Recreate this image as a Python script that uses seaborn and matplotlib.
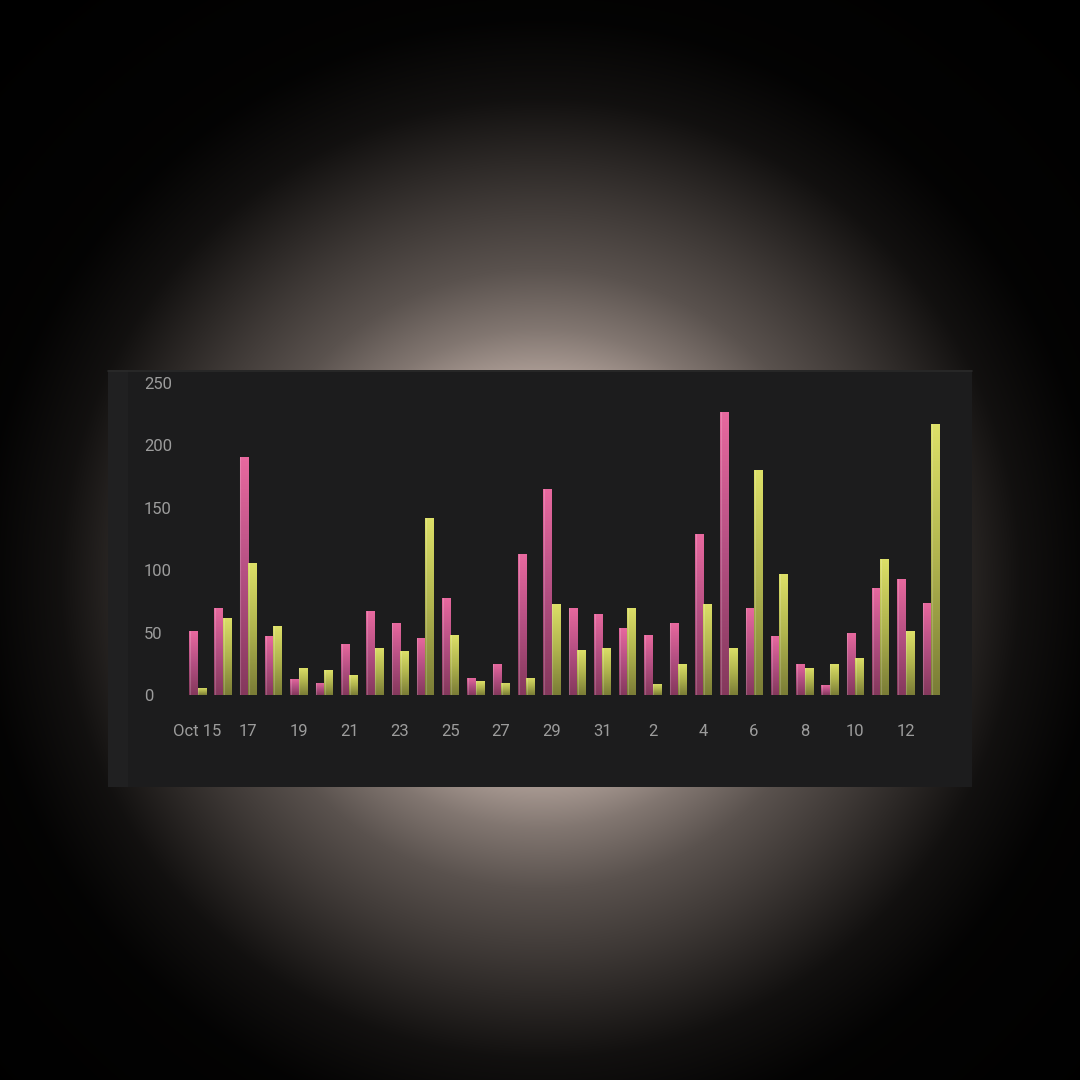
import numpy as np
import pandas as pd
import matplotlib
matplotlib.use("Agg")
import matplotlib.pyplot as plt
import seaborn as sns
from matplotlib.patches import Rectangle
from matplotlib.colors import LinearSegmentedColormap

# daily values, Oct 15 .. Nov 13
days = ["Oct %d" % d for d in range(15, 32)] + ["Nov %d" % d for d in range(1, 14)]
series_a = [51, 70, 191, 47, 13, 10, 41, 67, 58, 46, 78, 14, 25, 113, 165,
            70, 65, 54, 48, 58, 129, 227, 70, 47, 25, 8, 50, 86, 93, 74]
series_b = [6, 62, 106, 55, 22, 20, 16, 38, 35, 142, 48, 11, 10, 14, 73,
            36, 38, 70, 9, 25, 73, 38, 180, 97, 22, 25, 30, 109, 51, 217]
tick_labels = ["Oct 15", "17", "19", "21", "23", "25", "27", "29", "31",
               "2", "4", "6", "8", "10", "12"]
y_ticks = [0, 50, 100, 150, 200, 250]

df = pd.DataFrame({
    "day": days * 2,
    "value": series_a + series_b,
    "series": ["A"] * len(days) + ["B"] * len(days),
})

sns.set_theme(style="white")
plt.rcParams["font.family"] = ["Roboto", "DejaVu Sans"]

W = 1080
fig = plt.figure(figsize=(10.8, 10.8), dpi=100)
fig.patch.set_facecolor("black")

# background glow and the dark card
bg = fig.add_axes([0, 0, 1, 1])
yy, xx = np.mgrid[0:W, 0:W]
r = np.hypot(xx - 540, yy - 578)
k = np.interp(r, [0, 200, 250, 310, 380, 480, 560, 800],
              [1, 0.97, 0.72, 0.5, 0.34, 0.1, 0.02, 0])
peak = np.array([180, 164, 156]) / 255
img = k[..., None] * peak
bg.imshow(img, extent=[0, W, W, 0], interpolation="bilinear")
bg.add_patch(Rectangle((108, 370), 864, 417, facecolor="#1c1c1d", edgecolor="none"))
bg.add_patch(Rectangle((108, 370), 20, 417, facecolor="#202021", edgecolor="none"))
bg.plot([108, 972], [370.5, 370.5], color="#2a2a2a", lw=1.2)
bg.set_xlim(0, W)
bg.set_ylim(W, 0)
bg.axis("off")

# chart area
left, right, bottom, top = 184.9, 943.6, 695, 383
ax = fig.add_axes([left / W, 1 - bottom / W, (right - left) / W, (bottom - top) / W])
ax.set_facecolor("none")

pink = "#e5679d"
yellow = "#d9dd66"
sns.barplot(data=df, x="day", y="value", hue="series", palette=[pink, yellow],
            width=0.66, gap=0, legend=False, saturation=1, ax=ax)

# vertical gradient on every bar
cmaps = {
    "A": LinearSegmentedColormap.from_list("a", ["#84385c", "#b44f82", "#e8699f"]),
    "B": LinearSegmentedColormap.from_list("b", ["#7a7c36", "#b0b44e", "#dde068"]),
}
grad = np.linspace(1, 0, 256).reshape(-1, 1)
bars = [p for p in ax.patches if isinstance(p, Rectangle)]
n = len(days)
for i, p in enumerate(bars):
    key = "A" if i < n else "B"
    x0, w, h = p.get_x(), p.get_width(), p.get_height()
    if h <= 0:
        continue
    p.set_facecolor("none")
    p.set_edgecolor("none")
    im = ax.imshow(grad, extent=[x0, x0 + w, 0, h], aspect="auto",
                   cmap=cmaps[key], origin="upper", zorder=2)
    im.set_clip_path(p)
    # thin light edge on the left side
    ax.plot([x0 + w * 0.08, x0 + w * 0.08], [0, h], color="white", alpha=0.18,
            lw=0.8, zorder=3)

ax.set_xlim(-0.5, n - 0.5)
ax.set_ylim(0, 250)
ax.set_xticks(range(0, n, 2))
ax.set_xticklabels(tick_labels)
ax.set_yticks(y_ticks)
ax.set_yticklabels([str(v) for v in y_ticks])
for lbl in ax.get_yticklabels():
    lbl.set_ha("left")
ax.tick_params(axis="y", length=0, pad=29.5, labelsize=12, labelcolor="#9c9c9c")
ax.tick_params(axis="x", length=0, pad=21, labelsize=12, labelcolor="#9c9c9c")
ax.set_xlabel("")
ax.set_ylabel("")
for s in ax.spines.values():
    s.set_visible(False)
ax.grid(False)

fig.savefig("out.png", dpi=100, facecolor="black")
